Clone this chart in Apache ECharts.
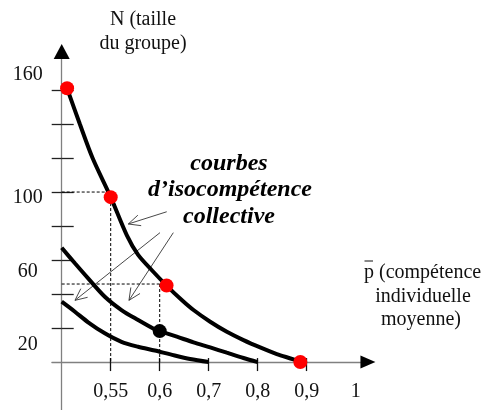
<!DOCTYPE html>
<html>
<head>
<meta charset="utf-8">
<script src="https://cdn.jsdelivr.net/npm/echarts@6/dist/echarts.min.js"></script>
<style>
  html, body { margin: 0; padding: 0; background: #fff; }
  #chart { width: 491px; height: 410px; }
</style>
</head>
<body>
<div id="chart"></div>
<script>
// Horizontal axis: evenly spaced positions carrying the p̄ tick labels
const pTickPositions = [1, 2, 3, 4, 5, 6];
const pTickLabels = ['0,55', '0,6', '0,7', '0,8', '0,9', '1'];
const pTickMarks = [1, 2, 3, 4, 5];

// Vertical axis: group size N
const nTickMarks = [20, 40, 60, 80, 100, 120, 140, 160];
const nTickLabels = [20, 60, 100, 160];

// Iso-competence curves, as [p̄ position, N]
const curveHigh = [
  [0.11, 161], [0.37, 140], [0.63, 120], [1.0, 97], [1.33, 74.5],
  [1.56, 63], [1.84, 54], [2.14, 45], [2.45, 36.5], [2.69, 30.6], [3.03, 23.7],
  [3.37, 17.8], [3.71, 12.9], [4.05, 8.6], [4.39, 4.7], [4.73, 1.6], [4.87, 0]
];
const curveMid = [
  [0, 67.2], [0.27, 58.1], [0.54, 49.2], [0.88, 38.4], [1.22, 30.6], [1.56, 24.7],
  [1.9, 19.2], [2.0, 18.2], [2.35, 14.9], [2.69, 11.6], [3.03, 8.6], [3.37, 5.5],
  [3.71, 2.4], [4.0, 0]
];
const curveLow = [
  [0, 35.5], [0.27, 29.6], [0.54, 23.4], [0.88, 16.9], [1.22, 11.9], [1.56, 9.0],
  [1.9, 6.8], [2.22, 4.5], [2.62, 1.8], [3.0, 0]
];

// Highlighted combinations
const redPoints = [[0.11, 161], [1, 97], [2.14, 45], [4.87, 0]];
const blackPoints = [[2, 18.2]];

// Dotted reading guides
const guideA = [[0, 100], [1, 100], [1, 0]];
const guideB = [[0, 45.9], [2.14, 45.9]];
const guideC = [[2, 45.9], [2, 0]];

// Pointers from the caption to the curves: [from, to]
const captionArrows = [
  [[2.143, 88.4], [1.359, 81.2]],
  [[2.006, 76.1], [0.271, 36.3]],
  [[2.278, 76.1], [1.373, 36.3]]
];

const SERIF = "'Liberation Serif', 'Times New Roman', serif";

// Small vertical nudges of the N labels (px, positive = down)
const nLabelNudge = { 20: 17, 60: 12, 100: 6, 160: -15 };
const nRich = {};
nTickLabels.forEach(v => {
  const s = nLabelNudge[v] || 0;
  nRich['n' + v] = {
    fontFamily: SERIF, fontSize: 20, color: '#111',
    padding: s >= 0 ? [2 * s, 0, 0, 0] : [0, 0, -2 * s, 0]
  };
});

const X_MIN = -0.2, X_MAX = 6.25;
const Y_MIN = -28.2, Y_MAX = 182.6;

const chart = echarts.init(document.getElementById('chart'), null, { renderer: 'canvas' });

const option = {
  animation: false,
  backgroundColor: '#fff',
  grid: { left: 51.9, right: 123.05, top: 51.6, bottom: 0, containLabel: false, outerBoundsMode: 'none' },
  xAxis: [
    {
      type: 'value', min: X_MIN, max: X_MAX, position: 'bottom',
      axisLine: { show: true, onZero: true, lineStyle: { color: '#808080', width: 1.3 } },
      axisTick: { show: true, customValues: pTickMarks, length: 9, lineStyle: { color: '#111', width: 1.3 } },
      axisLabel: {
        show: true, customValues: pTickPositions, margin: -28,
        fontFamily: SERIF, fontSize: 20, color: '#111', verticalAlign: 'top',
        formatter: v => pTickLabels[pTickPositions.indexOf(v)] || ''
      },
      splitLine: { show: false }
    },
    {
      type: 'value', min: X_MIN, max: X_MAX, position: 'bottom',
      axisLine: { show: true, onZero: true, symbol: ['none', 'triangle'], symbolSize: [13, 15],
        lineStyle: { color: '#000', width: 0 } },
      axisTick: { show: true, inside: true, customValues: pTickMarks, length: 4, lineStyle: { color: '#111', width: 1.3 } },
      axisLabel: { show: false },
      splitLine: { show: false }
    }
  ],
  yAxis: [
    {
      type: 'value', min: Y_MIN, max: Y_MAX, position: 'left',
      axisLine: { show: true, onZero: true, lineStyle: { color: '#808080', width: 1.3 } },
      axisTick: { show: true, customValues: nTickMarks, length: 10, lineStyle: { color: '#222', width: 1.3 } },
      axisLabel: {
        show: true, customValues: nTickLabels, margin: 24.2, align: 'center',
        fontFamily: SERIF, fontSize: 20, color: '#111',
        formatter: v => '{n' + v + '|' + v + '}',
        rich: nRich
      },
      splitLine: { show: false }
    },
    {
      type: 'value', min: Y_MIN, max: Y_MAX, position: 'left',
      axisLine: { show: true, onZero: true, symbol: ['none', 'triangle'], symbolSize: [16, 15],
        lineStyle: { color: '#000', width: 0 } },
      axisTick: { show: true, inside: true, customValues: nTickMarks, length: 12, lineStyle: { color: '#222', width: 1.3 } },
      axisLabel: { show: false },
      splitLine: { show: false }
    }
  ],
  series: [
    { type: 'line', data: guideA, showSymbol: false, silent: true, z: 2,
      lineStyle: { color: '#000', width: 1, type: [3, 2] } },
    { type: 'line', data: guideB, showSymbol: false, silent: true, z: 2,
      lineStyle: { color: '#000', width: 1, type: [3, 2] } },
    { type: 'line', data: guideC, showSymbol: false, silent: true, z: 2,
      lineStyle: { color: '#000', width: 1, type: [3, 2] } },
    { type: 'line', data: curveHigh, showSymbol: false, silent: true, smooth: 0.3, z: 3,
      lineStyle: { color: '#000', width: 4, cap: 'butt' } },
    { type: 'line', data: curveMid, showSymbol: false, silent: true, smooth: 0.3, z: 3,
      lineStyle: { color: '#000', width: 4, cap: 'butt' } },
    { type: 'line', data: curveLow, showSymbol: false, silent: true, smooth: 0.3, z: 3,
      lineStyle: { color: '#000', width: 4, cap: 'butt' } },
    { type: 'scatter', data: redPoints, symbolSize: 14, silent: true, z: 5,
      itemStyle: { color: '#ff0000', opacity: 1 } },
    { type: 'scatter', data: blackPoints, symbolSize: 14, silent: true, z: 5,
      itemStyle: { color: '#000', opacity: 1 } }
  ]
};

chart.setOption(option);

// Captions and the pointers from the caption to the curves
const graphics = [
  { type: 'text', x: 143, y: 19.3, style: { text: 'N (taille', font: '20px ' + SERIF, fill: '#111', textAlign: 'center', textVerticalAlign: 'middle' } },
  { type: 'text', x: 143, y: 44, style: { text: 'du groupe)', font: '20px ' + SERIF, fill: '#111', textAlign: 'center', textVerticalAlign: 'middle' } },

  { type: 'text', x: 229, y: 164, style: { text: 'courbes', font: 'italic bold 24px ' + SERIF, fill: '#000', textAlign: 'center', textVerticalAlign: 'middle' } },
  { type: 'text', x: 230, y: 190, style: { text: 'd\u2019isocompétence', font: 'italic bold 24px ' + SERIF, fill: '#000', textAlign: 'center', textVerticalAlign: 'middle' } },
  { type: 'text', x: 229, y: 217, style: { text: 'collective', font: 'italic bold 24px ' + SERIF, fill: '#000', textAlign: 'center', textVerticalAlign: 'middle' } },

  { type: 'text', x: 364, y: 272.3, style: { text: 'p (compétence', font: '20px ' + SERIF, fill: '#111', textAlign: 'left', textVerticalAlign: 'middle' } },
  { type: 'line', shape: { x1: 364.5, y1: 261, x2: 373, y2: 261 }, style: { stroke: '#111', lineWidth: 1 } },
  { type: 'text', x: 423, y: 296.3, style: { text: 'individuelle', font: '20px ' + SERIF, fill: '#111', textAlign: 'center', textVerticalAlign: 'middle' } },
  { type: 'text', x: 421, y: 320, style: { text: 'moyenne)', font: '20px ' + SERIF, fill: '#111', textAlign: 'center', textVerticalAlign: 'middle' } }
];

const HEAD_LEN = 13, HEAD_ANGLE = 25 * Math.PI / 180;
captionArrows.forEach(([from, to]) => {
  const a = chart.convertToPixel({ gridIndex: 0 }, from);
  const b = chart.convertToPixel({ gridIndex: 0 }, to);
  const ang = Math.atan2(a[1] - b[1], a[0] - b[0]);
  const h1 = [b[0] + HEAD_LEN * Math.cos(ang + HEAD_ANGLE), b[1] + HEAD_LEN * Math.sin(ang + HEAD_ANGLE)];
  const h2 = [b[0] + HEAD_LEN * Math.cos(ang - HEAD_ANGLE), b[1] + HEAD_LEN * Math.sin(ang - HEAD_ANGLE)];
  graphics.push({ type: 'line', shape: { x1: a[0], y1: a[1], x2: b[0], y2: b[1] }, style: { stroke: '#333', lineWidth: 0.9 } });
  graphics.push({ type: 'polyline', shape: { points: [h1, b, h2] }, style: { stroke: '#333', lineWidth: 0.9, fill: null } });
});

chart.setOption({ graphic: graphics });
</script>
</body>
</html>
